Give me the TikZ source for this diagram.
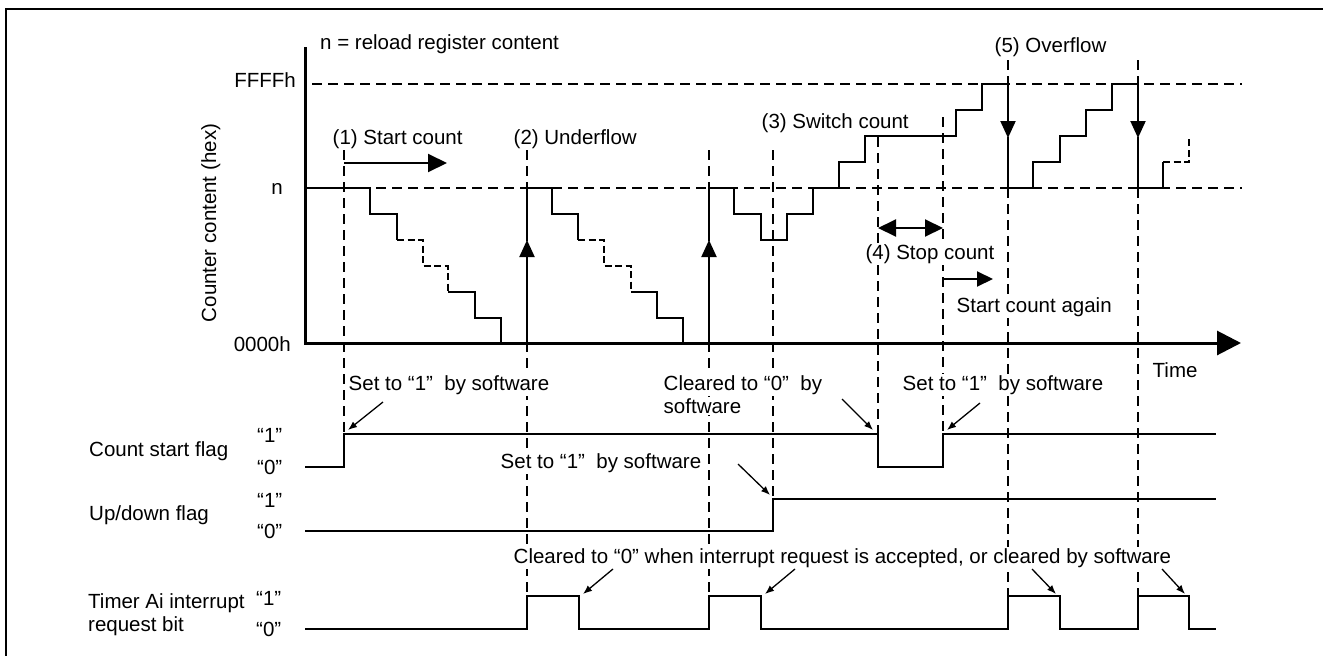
\documentclass[tikz,border=0pt]{standalone}
\usepackage{fontspec}
\setmainfont{Liberation Sans}
\usetikzlibrary{arrows.meta}
\begin{document}
\begin{tikzpicture}[x=1pt,y=-1pt,
  every node/.style={font=\fontsize{20.5}{24}\selectfont, inner sep=0pt},
  lbl/.style={anchor=base west, fill=white, inner sep=1.5pt},
  lbr/.style={anchor=base east, fill=white, inner sep=1.5pt},
  plain/.style={anchor=base west},
  frameline/.style={line width=2.4pt},
  axisline/.style={line width=3pt, line join=miter},
  sig/.style={line width=2pt},
  sigdash/.style={line width=1.8pt, dash pattern=on 7pt off 3.5pt},
  flagline/.style={line width=1.9pt},
  guide/.style={line width=1.2pt, dash pattern=on 10pt off 6pt},
  note/.style={line width=1.3pt, -{Latex[length=9pt,width=7pt]}},
  midup/.style={sig, -{Triangle[length=17pt,width=15pt]}},
  bigarrow/.style={line width=2pt, -{Triangle[length=19pt,width=18pt]}}
]
\useasboundingbox (0,0) rectangle (1323,656);
\fill[white] (0,0) rectangle (1323,656);

% frame
\draw[frameline] (6,660) -- (6,9) -- (1330,9);

% horizontal guides
\draw[guide] (312,84) -- (1242,84);
\draw[guide] (312,188) -- (1242,188);

% vertical guides
\draw[guide] (344,150) -- (344,434);
\draw[guide] (527,150) -- (527,596);
\draw[guide] (709,150) -- (709,596);
\draw[guide] (773,150) -- (773,499);
\draw[guide] (878,137) -- (878,434);
\draw[guide] (943,117) -- (943,434);
\draw[guide] (1008,60) -- (1008,596);
\draw[guide] (1138,60) -- (1138,596);

% axes
\draw[axisline, -{Triangle[length=24pt,width=24pt]}] (305,47) -- (305,343) -- (1241,343);

% counter staircase
\draw[sig] (305,188) -- (370,188) -- (370,214) -- (397,214) -- (397,240);
\draw[sigdash] (397,240) -- (423,240) -- (423,266) -- (448,266) -- (448,292);
\draw[sig] (448,292) -- (475,292) -- (475,318) -- (501,318) -- (501,343);

\draw[midup] (527,343) -- (527,240);
\draw[sig] (527,241) -- (527,188) -- (552,188) -- (552,214) -- (578,214) -- (578,240);
\draw[sigdash] (578,240) -- (604,240) -- (604,266) -- (631,266) -- (631,292);
\draw[sig] (631,292) -- (657,292) -- (657,318) -- (683,318) -- (683,343);

\draw[midup] (709,343) -- (709,240);
\draw[sig] (709,241) -- (709,188) -- (734,188) -- (734,214) -- (761,214) -- (761,240)
  -- (787,240) -- (787,214) -- (813,214) -- (813,188) -- (839,188) -- (839,162)
  -- (865,162) -- (865,136) -- (956,136) -- (956,110) -- (982,110) -- (982,84) -- (1008,84) -- (1008,86);
\draw[midup] (1008,84) -- (1008,138);
\draw[sig] (1008,137) -- (1008,188) -- (1033,188) -- (1033,162) -- (1060,162) -- (1060,136)
  -- (1086,136) -- (1086,110) -- (1112,110) -- (1112,84) -- (1138,84) -- (1138,86);
\draw[midup] (1138,84) -- (1138,138);
\draw[sig] (1138,137) -- (1138,188) -- (1163,188) -- (1163,162);
\draw[sigdash] (1163,162) -- (1189,162) -- (1189,136);

% count arrows
\coordinate (sc1) at (344,163);
\coordinate (sc2) at (447,163);
\draw[bigarrow] (sc1) -- (sc2);
\coordinate (st1) at (878,228);
\coordinate (st2) at (943,228);
\draw[line width=2pt, {Triangle[length=18pt,width=17pt]}-{Triangle[length=18pt,width=17pt]}] (st1) -- (st2);
\coordinate (ag1) at (943,279);
\coordinate (ag2) at (993,279);
\draw[line width=2pt, -{Triangle[length=16pt,width=15pt]}] (ag1) -- (ag2);

% flags
\draw[flagline] (305,467) -- (344,467) -- (344,434) -- (878,434) -- (878,467) -- (943,467) -- (943,434) -- (1216,434);
\draw[flagline] (305,531) -- (773,531) -- (773,499) -- (1216,499);
\draw[flagline] (305,629) -- (527,629) -- (527,596) -- (579,596) -- (579,629) -- (709,629) -- (709,596)
  -- (761,596) -- (761,629) -- (1008,629) -- (1008,596) -- (1060,596) -- (1060,629) -- (1138,629)
  -- (1138,596) -- (1189,596) -- (1189,629) -- (1216,629);

% texts of the graph
\node[plain] (nrel) at (320,49) {n = reload register content};
\node[anchor=base east] (ffff) at (296,87) {FFFFh};
\node[anchor=base east] (nlab) at (283,194) {n};
\node[anchor=base east] (zero) at (291,351) {0000h};
\node[rotate=90, anchor=base] (ylab) at (216,223) {Counter content (hex)};
\node[lbl] (c1) at (331,144) {(1) Start count};
\node[lbl] (c2) at (512,144) {(2) Underflow};
\node[lbl] (c3) at (760,128) {(3) Switch count};
\node[lbl] (c5) at (993,52) {(5) Overflow};
\node[lbr] (c4) at (996,259) {(4) Stop count};
\node[lbl] (again) at (955,312) {Start count again};
\node[lbl] (time) at (1151,377) {Time};

% annotations
\node[lbl] (set1) at (347,390) {Set to “1”\ \ by software};
\node[lbl] (clr1) at (662,390) {Cleared to “0”\ \ by};
\node[lbl] (clr1b) at (662,413) {software};
\node[lbl] (set2) at (901,390) {Set to “1”\ \ by software};
\node[lbl] (set3) at (499,468) {Set to “1”\ \ by software};
\node[lbl] (clr2) at (512,563) {Cleared to “0” when interrupt request is accepted, or cleared by software};

% left labels
\node[plain] (csf) at (89,456) {Count start flag};
\node[plain] (udf) at (89,520) {Up/down flag};
\node[plain] (tai) at (88,608) {Timer Ai interrupt};
\node[plain] (rqb) at (88,631) {request bit};
\node[plain] (csf1) at (257,442) {“1”};
\node[plain] (csf0) at (257,474) {“0”};
\node[plain] (udf1) at (257,507) {“1”};
\node[plain] (udf0) at (257,538) {“0”};
\node[plain] (tai1) at (256,605) {“1”};
\node[plain] (tai0) at (256,636) {“0”};

% annotation arrows
\coordinate (a1s) at (383,402); \coordinate (a1e) at (348,430);
\coordinate (a2s) at (842,399); \coordinate (a2e) at (873,430);
\coordinate (a3s) at (980,403); \coordinate (a3e) at (947,430);
\coordinate (a4s) at (738,464); \coordinate (a4e) at (770,495);
\coordinate (a5s) at (613,569); \coordinate (a5e) at (583,594);
\coordinate (a6s) at (795,569); \coordinate (a6e) at (765,594);
\coordinate (a7s) at (1032,569); \coordinate (a7e) at (1056,594);
\coordinate (a8s) at (1162,569); \coordinate (a8e) at (1185,594);
\draw[note] (a1s) -- (a1e);
\draw[note] (a2s) -- (a2e);
\draw[note] (a3s) -- (a3e);
\draw[note] (a4s) -- (a4e);
\draw[note] (a5s) -- (a5e);
\draw[note] (a6s) -- (a6e);
\draw[note] (a7s) -- (a7e);
\draw[note] (a8s) -- (a8e);
\end{tikzpicture}
\end{document}
